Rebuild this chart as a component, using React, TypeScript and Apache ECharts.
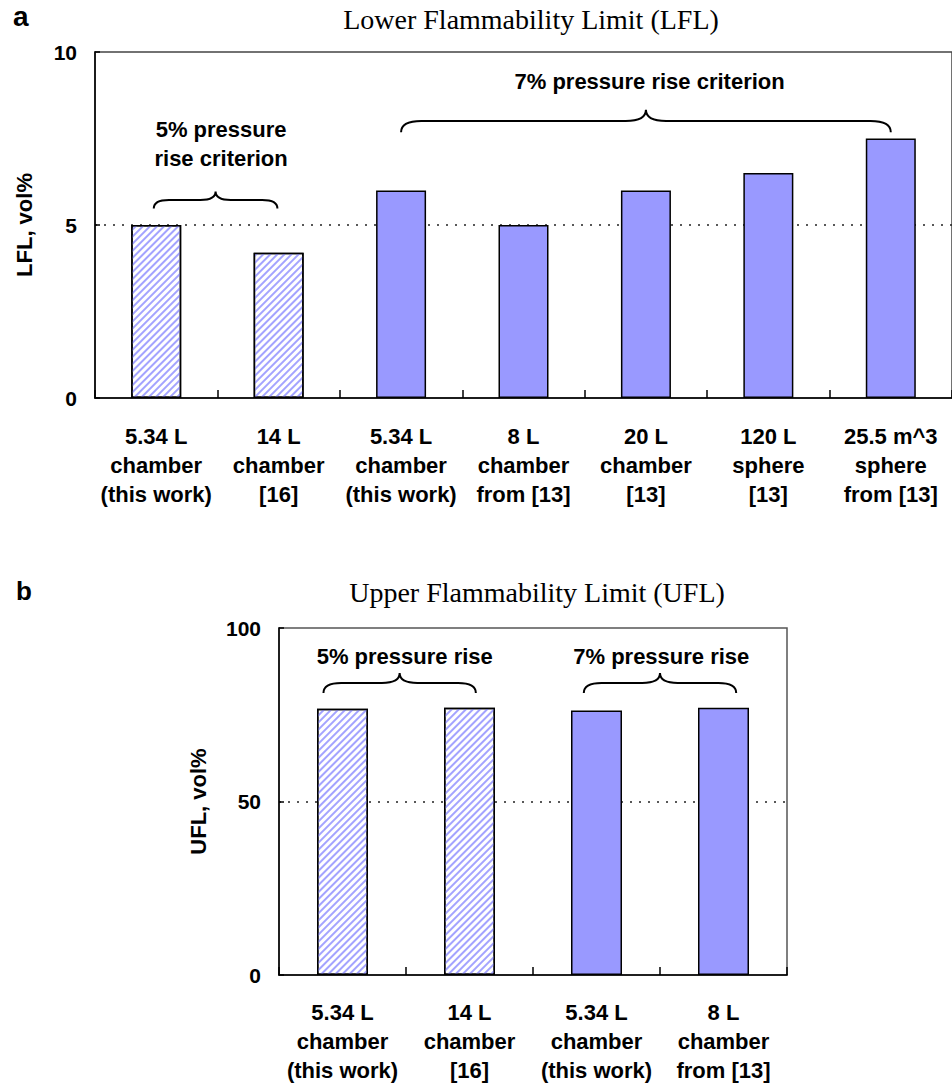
import React, { useEffect, useRef } from 'react';
import * as echarts from 'echarts';

// ---- data ----
const lflCategories = [
  '5.34 L\nchamber\n(this work)',
  '14 L\nchamber\n[16]',
  '5.34 L\nchamber\n(this work)',
  '8 L\nchamber\nfrom [13]',
  '20 L\nchamber\n[13]',
  '120 L\nsphere\n[13]',
  '25.5 m^3\nsphere\nfrom [13]',
];
const lflValues = [5.0, 4.2, 6.0, 5.0, 6.0, 6.5, 7.5];
const lflCriterion = [5, 5, 7, 7, 7, 7, 7];

const uflCategories = [
  '5.34 L\nchamber\n(this work)',
  '14 L\nchamber\n[16]',
  '5.34 L\nchamber\n(this work)',
  '8 L\nchamber\nfrom [13]',
];
const uflValues = [76.7, 77.0, 76.2, 77.0];
const uflCriterion = [5, 5, 7, 7];

const lflTicks = [0, 5, 10];
const uflTicks = [0, 50, 100];

// brace annotations (category-index positions, value-axis heights)
const lflBraces = [
  { from: -0.02, to: 0.99, yEnd: 5.48, yPeak: 5.97, labelAt: 0.53, labelY: 7.33, label: '5% pressure\nrise criterion' },
  { from: 2.0, to: 6.0, yEnd: 7.68, yPeak: 8.33, labelAt: 4.03, labelY: 9.15, label: '7% pressure rise criterion' },
];
const uflBraces = [
  { from: -0.15, to: 1.05, yEnd: 81.3, yPeak: 87.0, labelAt: 0.49, labelY: 91.7, label: '5% pressure rise' },
  { from: 1.9, to: 3.1, yEnd: 81.3, yPeak: 87.0, labelAt: 2.51, labelY: 91.7, label: '7% pressure rise' },
];

const BLUE = '#9999ff';
const SANS = 'Liberation Sans, Arial, Helvetica, sans-serif';
const SERIF = 'Liberation Serif, Times New Roman, serif';

const hatch = {
  symbol: 'rect',
  symbolSize: 1,
  color: '#a3a3ff',
  backgroundColor: '#ffffff',
  dashArrayX: [1, 0],
  dashArrayY: [1.1, 2.6],
  rotation: -Math.PI / 4,
};

function barItems(values: number[], crit: number[]) {
  return values.map((v, i) =>
    crit[i] === 5
      ? { value: v, itemStyle: { color: '#ffffff', decal: hatch, borderColor: '#000', borderWidth: 1.5 } }
      : { value: v, itemStyle: { color: BLUE, borderColor: '#000', borderWidth: 1.5 } }
  );
}

function braceSeries(list: any[], axisIndex: number) {
  return {
    type: 'custom',
    xAxisIndex: axisIndex,
    yAxisIndex: axisIndex,
    silent: true,
    z: 5,
    data: list.map(() => [0, 0]),
    renderItem: (params: any, api: any) => {
      const b = list[params.dataIndex];
      const band = api.size([1, 0])[0];
      const c0 = api.coord([0, b.yEnd]);
      const x0 = c0[0];
      const x1 = x0 + b.from * band;
      const x2 = x0 + b.to * band;
      const xm = (x1 + x2) / 2;
      const ye = c0[1];
      const yp = api.coord([0, b.yPeak])[1];
      const yl = (ye + yp) / 2;
      const rx = Math.min((ye - yl) * 1.8, (x2 - x1) / 5);
      const d =
        `M${x1},${ye} Q${x1},${yl} ${x1 + rx},${yl} L${xm - rx},${yl} Q${xm},${yl} ${xm},${yp} ` +
        `Q${xm},${yl} ${xm + rx},${yl} L${x2 - rx},${yl} Q${x2},${yl} ${x2},${ye}`;
      const lx = x0 + b.labelAt * band;
      const ly = api.coord([0, b.labelY])[1];
      return {
        type: 'group',
        children: [
          { type: 'path', shape: { pathData: d }, style: { fill: 'none', stroke: '#000', lineWidth: 2 } },
          {
            type: 'text',
            x: lx,
            y: ly,
            style: {
              text: b.label,
              fill: '#000',
              fontSize: 22,
              fontWeight: 'bold',
              fontFamily: SANS,
              lineHeight: 29,
              align: 'center',
              verticalAlign: 'middle',
            },
          },
        ],
      };
    },
  };
}

function catAxis(data: string[], gridIndex: number, margin: number) {
  return {
    type: 'category',
    gridIndex,
    data,
    boundaryGap: true,
    axisLine: { show: true, lineStyle: { color: '#000', width: 1.5 } },
    axisTick: { show: true, inside: true, length: 8, lineStyle: { color: '#000', width: 1.5 } },
    axisLabel: {
      interval: 0,
      margin,
      color: '#000',
      fontSize: 22,
      fontWeight: 'bold',
      fontFamily: SANS,
      lineHeight: 29,
    },
    splitLine: { show: false },
  };
}

function valAxis(ticks: number[], gridIndex: number, name: string, nameGap: number) {
  return {
    type: 'value',
    gridIndex,
    min: ticks[0],
    max: ticks[ticks.length - 1],
    interval: ticks[1] - ticks[0],
    name,
    nameLocation: 'middle',
    nameGap,
    nameTextStyle: { color: '#000', fontSize: 22, fontWeight: 'bold', fontFamily: SANS },
    axisLine: { show: true, lineStyle: { color: '#000', width: 1.5 } },
    axisTick: { show: true, inside: true, length: 5, lineStyle: { color: '#000', width: 1.5 } },
    axisLabel: { margin: 18, color: '#000', fontSize: 21, fontWeight: 'bold', fontFamily: SANS },
    splitLine: {
      show: true,
      showMinLine: false,
      showMaxLine: false,
      lineStyle: { color: '#222', width: 1.5, type: [2, 7] },
    },
  };
}

export default function App() {
  const ref = useRef<HTMLDivElement>(null);
  useEffect(() => {
    if (!ref.current) return;
    const chart = echarts.init(ref.current, undefined, { renderer: 'svg' });
    chart.setOption({
      animation: false,
      backgroundColor: '#ffffff',
      textStyle: { fontFamily: SANS },
      grid: [
        { left: 95, top: 52, width: 862, height: 346, show: true, borderColor: '#444', borderWidth: 1.5, backgroundColor: 'transparent' },
        { left: 279, top: 628, width: 508, height: 347.5, show: true, borderColor: '#555', borderWidth: 1.5, backgroundColor: 'transparent' },
      ],
      xAxis: [catAxis(lflCategories, 0, 24), catAxis(uflCategories, 1, 23)],
      yAxis: [valAxis(lflTicks, 0, 'LFL, vol%', 60), valAxis(uflTicks, 1, 'UFL, vol%', 70)],
      graphic: [
        { type: 'text', left: 13, top: 2, style: { text: 'a', fill: '#000', fontSize: 28, fontWeight: 'bold', fontFamily: SANS } },
        { type: 'text', left: 16, top: 578, style: { text: 'b', fill: '#000', fontSize: 26, fontWeight: 'bold', fontFamily: SANS } },
        { type: 'text', x: 531, y: 19.5, style: { text: 'Lower Flammability Limit (LFL)', fill: '#000', fontSize: 28, fontFamily: SERIF, align: 'center', verticalAlign: 'middle' } },
        { type: 'text', x: 537, y: 592, style: { text: 'Upper Flammability Limit (UFL)', fill: '#000', fontSize: 28, fontFamily: SERIF, align: 'center', verticalAlign: 'middle' } },
      ],
      series: [
        { type: 'bar', xAxisIndex: 0, yAxisIndex: 0, barWidth: 50, data: barItems(lflValues, lflCriterion), z: 3 },
        { type: 'bar', xAxisIndex: 1, yAxisIndex: 1, barWidth: 51, data: barItems(uflValues, uflCriterion), z: 3 },
        braceSeries(lflBraces, 0),
        braceSeries(uflBraces, 1),
      ],
    });
    return () => chart.dispose();
  }, []);
  return <div ref={ref} style={{ position: 'absolute', left: 0, top: 0, width: 952, height: 1085 }} />;
}
